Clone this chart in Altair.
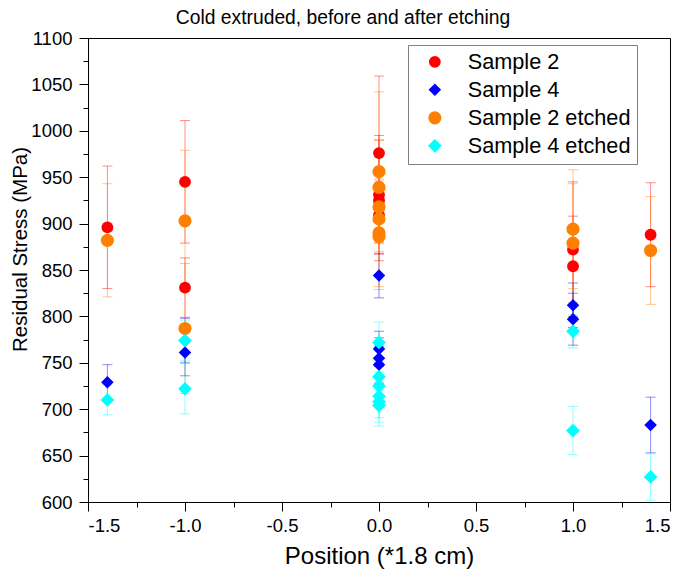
import altair as alt
import pandas as pd

series_names = ["Sample 2", "Sample 4", "Sample 2 etched", "Sample 4 etched"]
series_colors = ["#FF0000", "#0000FF", "#FF8000", "#00FFFF"]
series_shapes = ["circle", "diamond", "circle", "diamond"]
series_sizes = [140, 190, 140, 190]

s2_x = [-1.4, -1.0, -1.0, 0.0, 0.0, 0.0, 0.0, 1.0, 1.0, 1.4]
s2_y = [896, 945, 831, 976, 931, 925, 909, 872, 854, 888]
s2_e = [66, 66, 32, 83, 64, 65, 30, 73, 54, 56]

s4_x = [-1.4, -1.0, -1.0, 0.0, 0.0, 0.0, 0.0, 1.0, 1.0, 1.4]
s4_y = [729, 774, 761, 844, 765, 755, 748, 812, 797, 683]
s4_e = [19, 24, 25, 24, 19, 22, 20, 24, 28, 30]

s2e_x = [-1.4, -1.0, -1.0, 0.0, 0.0, 0.0, 0.0, 0.0, 0.0, 1.0, 1.0, 1.4]
s2e_y = [882, 903, 787, 956, 939, 918, 905, 890, 886, 894, 879, 871]
s2e_e = [61, 76, 70, 86, 51, 28, 25, 58, 57, 64, 64, 58]

s4e_x = [-1.4, -1.0, -1.0, 0.0, 0.0, 0.0, 0.0, 0.0, 0.0, 1.0, 1.0, 1.4]
s4e_y = [710, 774, 722, 772, 735, 725, 714, 708, 704, 784, 677, 627]
s4e_e = [16, 22, 27, 22, 15, 15, 23, 22, 22, 18, 26, 25]

y_major = [600, 650, 700, 750, 800, 850, 900, 950, 1000, 1050, 1100]
y_minor = [625, 675, 725, 775, 825, 875, 925, 975, 1025, 1075]
x_major = [-1.5, -1.0, -0.5, 0.0, 0.5, 1.0, 1.5]
x_minor = [-1.25, -0.75, -0.25, 0.25, 0.75, 1.25]

frames = []
for name, xs, ys, es in [
    (series_names[0], s2_x, s2_y, s2_e),
    (series_names[1], s4_x, s4_y, s4_e),
    (series_names[2], s2e_x, s2e_y, s2e_e),
    (series_names[3], s4e_x, s4e_y, s4e_e),
]:
    frames.append(pd.DataFrame({
        "series": name, "x": xs, "y": ys,
        "lo": [a - b for a, b in zip(ys, es)],
        "hi": [a + b for a, b in zip(ys, es)],
    }))
df = pd.concat(frames, ignore_index=True)

FONT = "Liberation Sans"
x_scale = alt.Scale(domain=[-1.5, 1.5], nice=False, zero=False)
y_scale = alt.Scale(domain=[600, 1100], nice=False, zero=False)
color_scale = alt.Scale(domain=series_names, range=series_colors)
shape_scale = alt.Scale(domain=series_names, range=series_shapes)
size_scale = alt.Scale(domain=series_names, range=series_sizes)

x_major_axis = alt.Axis(
    values=x_major, tickSize=9, labelFontSize=18.5, labelFont=FONT,
    labelExpr="datum.value < 0 ? '-' + format(-datum.value, '.1f') : format(datum.value, '.1f')",
    labelColor="black", labelPadding=5, grid=False, orient="bottom",
    title="Position (*1.8 cm)", titleFont=FONT, titleFontSize=24,
    titleFontWeight="normal", titleColor="black", titleX=291, titleY=61,
    titleBaseline="alphabetic", domainColor="black", tickColor="black",
)
y_major_axis = alt.Axis(
    values=y_major, format="d", tickSize=9, labelFontSize=18.5, labelFont=FONT,
    labelColor="black", labelPadding=7, grid=False, orient="left",
    title="Residual Stress (MPa)", titleFont=FONT, titleFontSize=20.5,
    titleFontWeight="normal", titleColor="black", titleX=-62, titleY=211,
    titleBaseline="alphabetic", domainColor="black", tickColor="black",
)
x_minor_axis = alt.Axis(values=x_minor, tickSize=5, labels=False, domain=False,
                        grid=False, title=None, orient="bottom", tickColor="black")
y_minor_axis = alt.Axis(values=y_minor, tickSize=5, labels=False, domain=False,
                        grid=False, title=None, orient="left", tickColor="black")

legend = alt.Legend(
    title=None, orient="none", legendX=320, legendY=7, labelFont=FONT,
    labelFontSize=21.7, labelColor="black", strokeColor="#808080", fillColor="white",
    padding=6, symbolOffset=10, labelOffset=22, rowPadding=5, symbolStrokeWidth=0,
    symbolOpacity=1, labelLimit=400, labelExpr="datum.label + ' '",
)
color_enc = alt.Color("series:N", scale=color_scale, legend=legend)

base = alt.Chart(df)

bars = base.mark_rule(strokeWidth=1, opacity=0.45).encode(
    x=alt.X("x:Q", scale=x_scale, axis=x_minor_axis),
    y=alt.Y("lo:Q", scale=y_scale, axis=y_minor_axis),
    y2="hi:Q",
    color=color_enc,
)
caps_lo = base.mark_tick(orient="horizontal", size=10, thickness=1, opacity=0.45).encode(
    x=alt.X("x:Q", scale=x_scale, axis=None),
    y=alt.Y("lo:Q", scale=y_scale, axis=None),
    color=color_enc,
)
caps_hi = base.mark_tick(orient="horizontal", size=10, thickness=1, opacity=0.45).encode(
    x=alt.X("x:Q", scale=x_scale, axis=None),
    y=alt.Y("hi:Q", scale=y_scale, axis=None),
    color=color_enc,
)
points = base.mark_point(filled=True, opacity=1, strokeWidth=0).encode(
    x=alt.X("x:Q", scale=x_scale, axis=x_major_axis),
    y=alt.Y("y:Q", scale=y_scale, axis=y_major_axis),
    color=color_enc,
    shape=alt.Shape("series:N", scale=shape_scale, legend=legend),
    size=alt.Size("series:N", scale=size_scale, legend=legend),
)

chart = alt.layer(bars, caps_lo, caps_hi, points).resolve_axis(
    x="independent", y="independent"
).properties(
    width=582, height=464,
    autosize=alt.AutoSizeParams(type="none"),
    padding={"left": 80, "top": 30, "right": 7, "bottom": 68},
    title=alt.TitleParams(
        "Cold extruded, before and after etching", font=FONT, fontSize=19.3,
        fontWeight="normal", color="black", anchor="middle", dx=-36, offset=1,
    ),
).configure_view(stroke="black", strokeWidth=1).configure_axis(
    domainWidth=1, tickWidth=1
)

chart.save("out.html", embed_options={"renderer": "svg", "actions": False})
